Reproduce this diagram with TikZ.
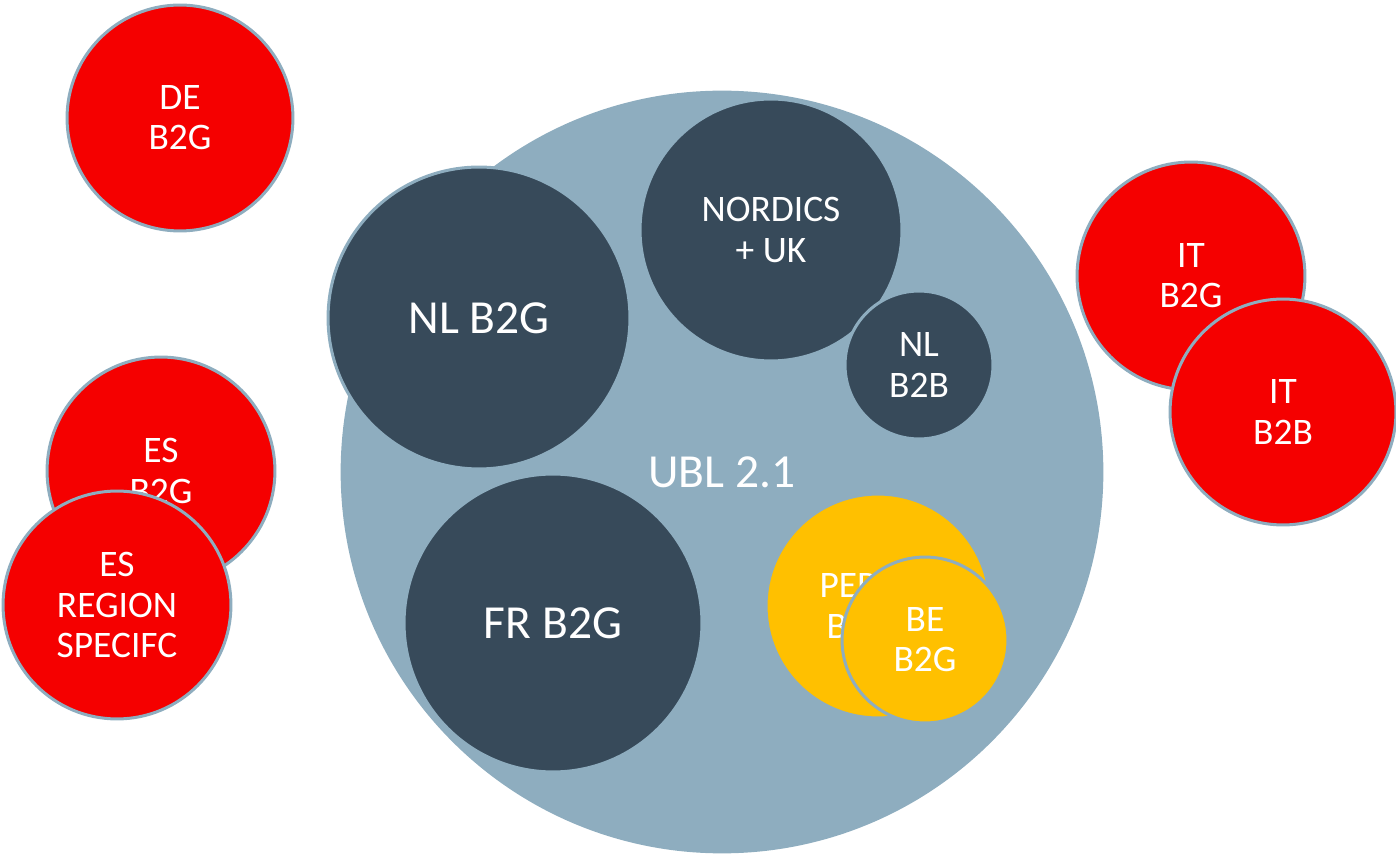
\documentclass[tikz,border=0pt]{standalone}
\usepackage{fontspec}
\setmainfont{Carlito}
\usepackage{xcolor}
\usepackage{tikz}
\definecolor{ublblue}{HTML}{8EADBF}
\definecolor{navy}{HTML}{374A5A}
\definecolor{esred}{HTML}{F50000}
\definecolor{peppolyellow}{HTML}{FFC000}

\begin{document}
\begin{tikzpicture}[
    x=0.02cm, y=-0.02cm,
    bubble/.style={circle, draw=ublblue, line width=0.06cm, inner sep=0pt, text=white, align=center, minimum size=#1*0.04cm},
    navybubble/.style={bubble=#1, fill=navy},
    redbubble/.style={bubble=#1, fill=esred},
    yellowbubble/.style={bubble=#1, fill=peppolyellow},
    bigtext/.style={font=\fontsize{27}{32}\selectfont},
    smalltext/.style={font=\fontsize{21.3}{22.8}\selectfont}
]
\useasboundingbox (0,0) rectangle (1396,857);

% UBL 2.1 and what lives inside it
\node[bubble=380, fill=ublblue, bigtext] (ubl) at (722,472) {UBL 2.1};
\node[navybubble=151, bigtext] (nlbtg) at (479,318) {NL B2G};
\node[navybubble=131, smalltext] (nordics) at (771,230) {NORDICS\\+ UK};
\node[navybubble=74, smalltext] (nlbtb) at (919,365) {NL\\B2B};
\node[navybubble=149, bigtext] (frbtg) at (553,623) {FR B2G};
\node[yellowbubble=112, smalltext] (peppol) at (878,606) {PEPPOL\\BIS 3.0};
\node[yellowbubble=83, smalltext] (bebtg) at (925,640) {BE\\B2G};

% national formats outside UBL
\node[redbubble=113, smalltext] (debtg) at (180,118) {DE\\B2G};
\node[redbubble=114, smalltext] (itbtg) at (1191,276) {IT\\B2G};
\node[redbubble=113, smalltext] (itbtb) at (1283,412) {IT\\B2B};
\node[redbubble=114, smalltext] (esbtg) at (161,471) {ES\\B2G};
\node[redbubble=114, smalltext] (esregion) at (117,605) {ES\\REGION\\SPECIFC};
\end{tikzpicture}
\end{document}
